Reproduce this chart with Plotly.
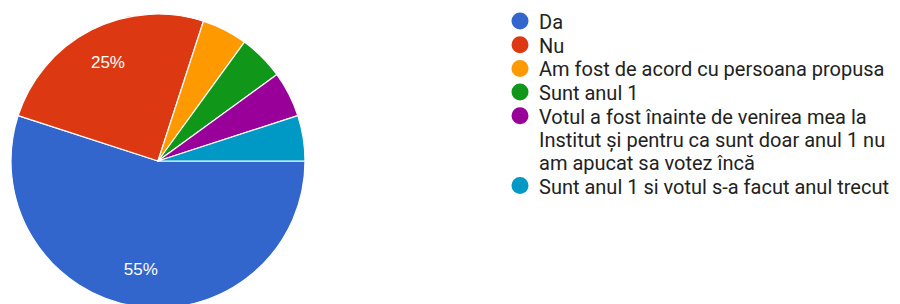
import plotly.graph_objects as go

categories = [
    "Da",
    "Nu",
    "Am fost de acord cu persoana propusa",
    "Sunt anul 1",
    "Votul a fost înainte de venirea mea la<br>Institut și pentru ca sunt doar anul 1 nu<br>am apucat sa votez încă",
    "Sunt anul 1 si votul s-a facut anul trecut",
]
values = [11, 5, 1, 1, 1, 1]
show_label = [True, True, False, False, False, False]
colors = ["#3366cc", "#dc3912", "#ff9900", "#109618", "#990099", "#0099c6"]

W, H = 900, 304
OFF = 8  # page body margin in the screenshot


def px_x(p):
    return (p - OFF) / W


def px_y(p):
    return 1 - (p - OFF) / H


# pie geometry (screen pixels)
CX, CY, R = 158, 161, 147
dom_x = [px_x(CX - R), px_x(CX + R)]
dom_y = [px_y(CY + R), px_y(CY - R)]
dom_y = [max(0.0, dom_y[0]), min(1.0, dom_y[1])]

fig = go.Figure()
# coloured slices
fig.add_trace(go.Pie(
    labels=categories,
    values=values,
    sort=False,
    direction="clockwise",
    rotation=90,
    marker=dict(colors=colors, line=dict(color="white", width=1.2)),
    textinfo="none",
    showlegend=False,
    hoverinfo="label+percent",
    domain=dict(x=dom_x, y=dom_y),
))
# transparent ring carrying the percentage labels
fig.add_trace(go.Pie(
    labels=categories,
    values=values,
    sort=False,
    direction="clockwise",
    rotation=90,
    hole=0.5,
    marker=dict(colors=["rgba(0,0,0,0)"] * len(values), line=dict(width=0)),
    texttemplate=["%{percent:.0%}" if s else "" for s in show_label],
    textposition="inside",
    insidetextorientation="horizontal",
    textfont=dict(color="white", size=17, family="Arial, Liberation Sans, sans-serif"),
    showlegend=False,
    hoverinfo="skip",
    domain=dict(x=dom_x, y=dom_y),
))

# custom legend: circle + text lines
LEG_CX, LEG_TX = 520, 537
ITEM_GAP, LINE_GAP = 23.7, 23
DOT_R = 8.5
font = dict(family="Roboto, Arial, sans-serif", size=20, color="#222222")

shapes, annotations = [], []
y = 21
for name, c in zip(categories, colors):
    lines = name.split("<br>")
    shapes.append(dict(
        type="circle", xref="paper", yref="paper",
        x0=px_x(LEG_CX - DOT_R), x1=px_x(LEG_CX + DOT_R),
        y0=px_y(y + DOT_R), y1=px_y(y - DOT_R),
        fillcolor=c, line=dict(width=0),
    ))
    ly = y
    for ln in lines:
        annotations.append(dict(
            text=ln, xref="paper", yref="paper",
            x=px_x(LEG_TX), y=px_y(ly + 1), xanchor="left", yanchor="middle",
            showarrow=False, font=font, align="left",
        ))
        ly += LINE_GAP
    y += ITEM_GAP + LINE_GAP * (len(lines) - 1)

fig.update_layout(
    width=W, height=H,
    margin=dict(l=0, r=0, t=0, b=0),
    paper_bgcolor="white",
    plot_bgcolor="white",
    shapes=shapes,
    annotations=annotations,
)

fig.write_html("out.html")
